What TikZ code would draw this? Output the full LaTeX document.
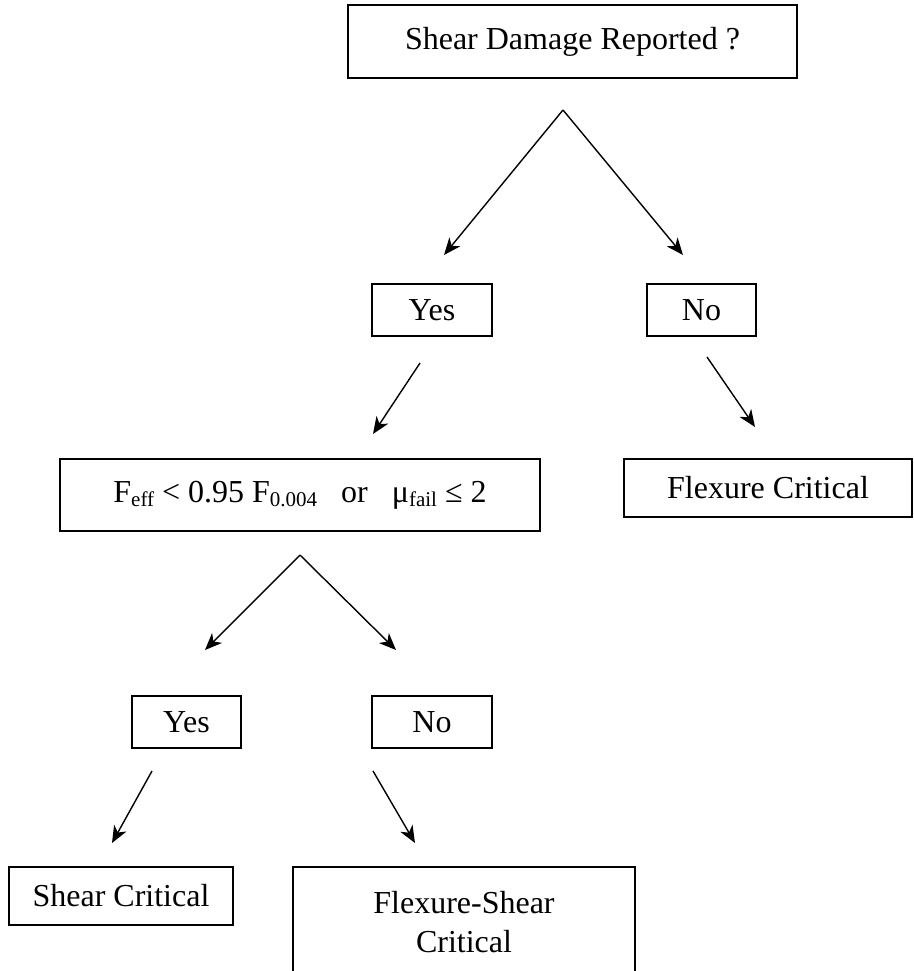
\documentclass[tikz,border=0pt]{standalone}
\usepackage{fontspec}
\setmainfont{Liberation Serif}
\usetikzlibrary{arrows, arrows.meta}
\usetikzlibrary{positioning}
\usetikzlibrary{calc}
\newcommand{\lowsub}[1]{\raisebox{-4pt}{\fontsize{21}{21}\selectfont #1}}

\begin{document}
\begin{tikzpicture}[x=1pt, y=-1pt, every node/.style={draw, rectangle, line width=2pt, inner sep=0pt, font=\fontsize{32}{39}\selectfont}, arr/.style={line width=1.4pt, -{Stealth[length=17pt, width=14pt, inset=5pt]}}]
	\useasboundingbox (0,0) rectangle (913,971);
	\clip (0,0) rectangle (913,971);
	% boxes
	\node[minimum width=449pt, minimum height=73pt] (damage) at (572.5,42) {Shear Damage Reported ?};
	\node[minimum width=120pt, minimum height=52pt] (yesA) at (432,310) {Yes};
	\node[minimum width=109pt, minimum height=52pt] (noA) at (701.5,310) {No};
	\node[minimum width=480pt, minimum height=72pt] (cond) at (300,495) {F\lowsub{eff} < 0.95 F\lowsub{0.004}\hspace{0.75em}or\hspace{0.75em}μ\lowsub{fail} ≤ 2};
	\node[minimum width=288pt, minimum height=58pt] (flex) at (768,488) {Flexure Critical};
	\node[minimum width=109pt, minimum height=52pt] (yesB) at (186.5,722) {Yes};
	\node[minimum width=120pt, minimum height=52pt] (noB) at (432,722) {No};
	\node[minimum width=224pt, minimum height=58pt] (shear) at (121,896) {Shear Critical};
	\node[minimum width=342pt, minimum height=110pt, align=center] (flexshear) at (464,922) {Flexure-Shear\\Critical};
	% arrow ends
	\foreach \name/\x/\y in {topA/563/110, yesAtip/444/255, noAtip/683/255, yesAfrom/420/363, yesAto/373/434, noAfrom/707/357, noAto/755/427, topB/300/555, yesBtip/205/650, noBtip/396/650, yesBfrom/152/771, yesBto/112/843, noBfrom/373/771, noBto/415/843}
	{
		\coordinate (\name) at (\x,\y);
	}
	\foreach \a/\b in {topA/yesAtip, topA/noAtip, yesAfrom/yesAto, noAfrom/noAto, topB/yesBtip, topB/noBtip, yesBfrom/yesBto, noBfrom/noBto}
	{
		\draw[arr] (\a) -- (\b);
	}
\end{tikzpicture}
\end{document}
